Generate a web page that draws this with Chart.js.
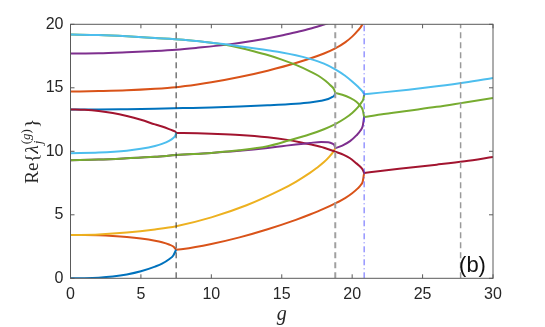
<!DOCTYPE html>
<html><head><meta charset="utf-8">
<script src="https://cdn.jsdelivr.net/npm/chart.js@4/dist/chart.umd.min.js"></script>
<style>html,body{margin:0;padding:0;background:#fff;}canvas{display:block;}</style>
</head><body>
<canvas id="c" width="545" height="327"></canvas>
<script>
// ---- axis ticks ----
const xTicks = [0, 5, 10, 15, 20, 25, 30];
const yTicks = [0, 5, 10, 15, 20];
// ---- vertical marker positions ----
const dashedLines = [7.5, 18.8, 27.7];
const dashDotLine = 20.85;

// ---- curves (g values, Re values) ----
const gBlueLow = [0, 1, 2, 3, 4, 5, 6, 6.5, 7, 7.3, 7.5];
const vBlueLow = [0, 0.01, 0.05, 0.14, 0.3, 0.55, 0.92, 1.15, 1.5, 1.8, 2.25];
const gOrangeLow = [0, 1, 2, 3, 4, 5, 6, 6.5, 7, 7.3, 7.5];
const vOrangeLow = [3.4, 3.4, 3.38, 3.33, 3.25, 3.13, 2.96, 2.84, 2.66, 2.5, 2.25];
const gOrangeMid = [7.5, 8, 10, 12, 14, 16, 17, 18, 18.8, 19.5, 20, 20.4, 20.6, 20.75, 20.85];
const vOrangeMid = [2.25, 2.3, 2.7, 3.22, 3.86, 4.6, 5.02, 5.48, 5.9, 6.32, 6.7, 7.08, 7.33, 7.62, 8.3];
const gYellow = [0, 2, 4, 6, 7.5, 10, 12.5, 15, 16, 17, 17.5, 18, 18.4, 18.65, 18.8];
const vYellow = [3.4, 3.45, 3.6, 3.85, 4.1, 4.8, 5.75, 7.0, 7.6, 8.3, 8.7, 9.15, 9.6, 9.95, 10.25];
const gPurpleLow = [0, 2, 4, 6, 7.5, 10, 11, 12, 13, 14, 15, 16, 17, 17.8, 18.3, 18.6, 18.75, 18.8];
const vPurpleLow = [9.3, 9.35, 9.45, 9.57, 9.7, 9.875, 9.96, 10.04, 10.14, 10.26, 10.4, 10.54, 10.66, 10.73, 10.72, 10.6, 10.45, 10.25];
const gGreenLow = [0, 2, 4, 6, 7.5, 10, 12, 14, 15.5, 17, 18, 18.8, 19.5, 20, 20.4, 20.65, 20.8, 20.85];
const vGreenLow = [9.3, 9.35, 9.45, 9.57, 9.7, 9.875, 10.075, 10.395, 10.845, 11.34, 11.74, 12.14, 12.6, 13.02, 13.46, 13.835, 14.135, 14.45];
const gCyanLow = [0, 2, 4, 5, 6, 6.5, 7, 7.3, 7.45, 7.5];
const vCyanLow = [9.85, 9.9, 10.05, 10.2, 10.42, 10.58, 10.82, 11.05, 11.25, 11.45];
const gRedA = [0, 1, 2, 3, 4, 5, 6, 6.5, 7, 7.3, 7.45, 7.5];
const vRedA = [13.3, 13.27, 13.18, 13.02, 12.78, 12.48, 12.12, 11.95, 11.75, 11.62, 11.55, 11.45];
const gRedB = [7.5, 9, 10, 12, 14, 15.4, 16.3, 17, 18, 18.8, 19.4, 19.85, 20.3, 20.56, 20.75, 20.85];
const vRedB = [11.45, 11.42, 11.38, 11.28, 11.1, 10.9, 10.72, 10.55, 10.28, 9.97, 9.72, 9.45, 9.05, 8.8, 8.55, 8.3];
const gRedC = [20.85, 22, 24, 26, 28, 30];
const vRedC = [8.3, 8.45, 8.7, 8.95, 9.22, 9.55];
const gPurpleB = [18.8, 19.3, 19.85, 20.3, 20.6, 20.75, 20.85];
const vPurpleB = [10.25, 10.45, 10.8, 11.25, 11.65, 12.0, 12.7];
const gGreenB = [18.8, 19.3, 19.85, 20.3, 20.56, 20.75, 20.85];
const vGreenB = [14.6, 14.45, 14.2, 13.9, 13.6, 13.25, 12.7];
const gGreenC = [20.85, 22, 24, 26, 28, 30];
const vGreenC = [12.7, 12.9, 13.2, 13.5, 13.85, 14.2];
const gCyanC = [20.85, 22, 24, 26, 28, 30];
const vCyanC = [14.5, 14.62, 14.85, 15.12, 15.42, 15.78];
const gBlueHigh = [0, 2, 4, 6, 8, 10, 12, 14, 16, 17, 17.8, 18.3, 18.6, 18.75, 18.8];
const vBlueHigh = [13.3, 13.3, 13.32, 13.35, 13.4, 13.45, 13.52, 13.62, 13.75, 13.85, 13.98, 14.12, 14.28, 14.42, 14.6];
const gGreenHigh = [0, 2, 4, 6, 8, 10, 11, 12, 13, 14, 15, 16, 17, 17.6, 18.1, 18.45, 18.7, 18.8];
const vGreenHigh = [19.2, 19.15, 19.05, 18.92, 18.78, 18.55, 18.38, 18.15, 17.88, 17.58, 17.22, 16.8, 16.3, 15.95, 15.55, 15.2, 14.9, 14.6];
const gCyanHigh = [0, 2, 4, 6, 8, 10, 11, 12, 13, 14, 15, 16, 17, 18, 18.8, 19.5, 20, 20.4, 20.7, 20.85];
const vCyanHigh = [19.2, 19.15, 19.05, 18.92, 18.78, 18.55, 18.42, 18.28, 18.12, 17.95, 17.78, 17.56, 17.28, 16.9, 16.45, 15.95, 15.5, 15.1, 14.75, 14.5];
const gOrangeHigh = [0, 2, 4, 6, 7.5, 9, 10, 12, 14, 16, 18, 18.8, 19.5, 20, 20.4, 20.7, 20.85];
const vOrangeHigh = [14.7, 14.74, 14.8, 14.92, 15.05, 15.26, 15.43, 15.85, 16.35, 16.95, 17.7, 18.1, 18.58, 19.03, 19.5, 19.95, 20.4];
const gPurpleHigh = [0, 2, 4, 6, 7.5, 9, 11, 13, 14.9, 16, 17, 18, 18.5];
const vPurpleHigh = [17.7, 17.72, 17.8, 17.9, 18.0, 18.15, 18.38, 18.7, 19.1, 19.38, 19.65, 19.98, 20.15];

const C = {blue:'#0072BD', orange:'#D95319', yellow:'#EDB120', purple:'#7E2F8E', green:'#77AC30', cyan:'#4DBEEE', red:'#A2142F'};
const yMin = yTicks[0], yMax = yTicks[yTicks.length - 1];

function pts(g, v) { return g.map((x, i) => ({x: x, y: v[i]})); }
function curve(g, v, color) {
  return {data: pts(g, v), borderColor: color, borderWidth: 2, pointRadius: 0,
    showLine: true, cubicInterpolationMode: 'monotone', clip: 0, fill: false};
}
function vline(x, color, width, dash) {
  return {data: [{x: x, y: yMin}, {x: x, y: yMax}], borderColor: color, borderWidth: width,
    borderDash: dash, pointRadius: 0, showLine: true, clip: 0, fill: false};
}

// first dataset is drawn on top
const datasets = [
  vline(dashedLines[0], '#303030', 1, [6, 4]),
  vline(dashedLines[1], '#a0a0a0', 2, [6, 4]),
  vline(dashedLines[2], '#999999', 1.5, [6, 4]),
  vline(dashDotLine, 'rgba(70,70,255,0.85)', 1, [6, 3, 1, 3]),
  curve(gCyanHigh, vCyanHigh, C.cyan),
  curve(gCyanLow, vCyanLow, C.cyan),
  curve(gCyanC, vCyanC, C.cyan),
  curve(gGreenLow, vGreenLow, C.green),
  curve(gGreenHigh, vGreenHigh, C.green),
  curve(gGreenB, vGreenB, C.green),
  curve(gGreenC, vGreenC, C.green),
  curve(gPurpleB, vPurpleB, C.purple),
  curve(gPurpleLow, vPurpleLow, C.purple),
  curve(gPurpleHigh, vPurpleHigh, C.purple),
  curve(gRedA, vRedA, C.red),
  curve(gRedB, vRedB, C.red),
  curve(gRedC, vRedC, C.red),
  curve(gBlueLow, vBlueLow, C.blue),
  curve(gBlueHigh, vBlueHigh, C.blue),
  curve(gYellow, vYellow, C.yellow),
  curve(gOrangeLow, vOrangeLow, C.orange),
  curve(gOrangeMid, vOrangeMid, C.orange),
  curve(gOrangeHigh, vOrangeHigh, C.orange)
];

const boxPlugin = {
  id: 'box',
  afterDatasetsDraw(chart) {
    const {ctx, chartArea: a, scales: {x, y}} = chart;
    ctx.save();
    ctx.strokeStyle = '#5a5a5a';
    ctx.lineWidth = 1;
    ctx.strokeRect(a.left, a.top, a.right - a.left, a.bottom - a.top);
    const L = 4;
    ctx.beginPath();
    x.ticks.forEach(t => {
      const p = x.getPixelForValue(t.value);
      ctx.moveTo(p, a.bottom); ctx.lineTo(p, a.bottom - L);
      ctx.moveTo(p, a.top); ctx.lineTo(p, a.top + L);
    });
    y.ticks.forEach(t => {
      const p = y.getPixelForValue(t.value);
      ctx.moveTo(a.left, p); ctx.lineTo(a.left + L, p);
      ctx.moveTo(a.right, p); ctx.lineTo(a.right - L, p);
    });
    ctx.stroke();
    // panel label
    ctx.fillStyle = '#111';
    ctx.font = '22px "Liberation Sans", Arial, sans-serif';
    ctx.textAlign = 'center';
    ctx.textBaseline = 'alphabetic';
    ctx.fillText('(b)', 472.5, 271.5);
    ctx.restore();
  },
  afterDraw(chart) {
    const ctx = chart.ctx;
    const a = chart.chartArea;
    const s = 19;
    const rm = s + 'px "Liberation Serif", serif';
    const it = 'italic ' + s + 'px "Liberation Serif", serif';
    const sm = Math.round(s * 0.7);
    const smIt = 'italic ' + sm + 'px "Liberation Serif", serif';
    const smRm = sm + 'px "Liberation Serif", serif';
    ctx.save();
    ctx.fillStyle = '#262626';
    ctx.textBaseline = 'alphabetic';
    ctx.textAlign = 'left';
    const w = (f, t) => { ctx.font = f; return ctx.measureText(t).width; };
    const wRe = w(rm, 'Re'), wOb = w(rm, '{'), wLam = w(it, 'λ');
    const wJ = w(smIt, 'j');
    const wSup = w(smRm, '(') + w(smIt, 'g') + w(smRm, ')');
    const wCb = w(rm, '}');
    const total = wRe + wOb + wLam + 1 + Math.max(wJ, wSup) + 1 + wCb;
    ctx.translate(37.5, (a.top + a.bottom) / 2);
    ctx.rotate(-Math.PI / 2);
    let cx = -total / 2;
    ctx.font = rm; ctx.fillText('Re', cx, 0); cx += wRe;
    ctx.fillText('{', cx, 0); cx += wOb;
    ctx.font = it; ctx.fillText('λ', cx, 0); cx += wLam + 1;
    ctx.font = smIt; ctx.fillText('j', cx, 4);
    let sx = cx;
    ctx.font = smRm; ctx.fillText('(', sx, -8); sx += w(smRm, '(');
    ctx.font = smIt; ctx.fillText('g', sx, -8); sx += w(smIt, 'g');
    ctx.font = smRm; ctx.fillText(')', sx, -8);
    cx += Math.max(wJ, wSup) + 1;
    ctx.font = rm; ctx.fillText('}', cx, 0);
    ctx.restore();
  }
};

new Chart(document.getElementById('c'), {
  type: 'scatter',
  data: {datasets: datasets},
  options: {
    responsive: false,
    animation: false,
    devicePixelRatio: 1,
    events: [],
    layout: {padding: {left: 0, right: 52, top: 24.3, bottom: 0}},
    plugins: {legend: {display: false}, tooltip: {enabled: false}},
    scales: {
      x: {
        type: 'linear', min: xTicks[0], max: xTicks[xTicks.length - 1],
        afterBuildTicks: s => { s.ticks = xTicks.map(v => ({value: v})); },
        afterFit: s => { s.height = 48.7; },
        grid: {display: false, drawTicks: false},
        border: {display: false},
        ticks: {color: '#262626', padding: 7, font: {family: '"Liberation Sans", Arial, sans-serif', size: 16}},
        title: {display: true, text: 'g', color: '#262626', padding: {top: 0, bottom: 0},
          font: {family: '"Liberation Serif", serif', style: 'italic', size: 20}}
      },
      y: {
        type: 'linear', min: yMin, max: yMax,
        afterBuildTicks: s => { s.ticks = yTicks.map(v => ({value: v})); },
        afterFit: s => { s.width = 70.5; },
        grid: {display: false, drawTicks: false},
        border: {display: false},
        ticks: {color: '#262626', padding: 7, font: {family: '"Liberation Sans", Arial, sans-serif', size: 16}}
      }
    }
  },
  plugins: [boxPlugin]
});
</script>
</body></html>
